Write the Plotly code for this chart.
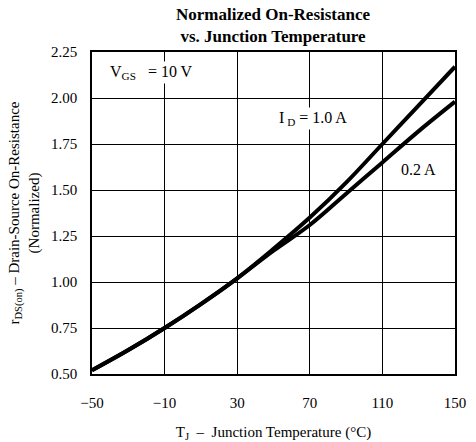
import plotly.graph_objects as go

temps = [-50, -30, -10, 10, 30, 50, 70, 90, 110, 130, 150]
r_1a = [0.52, 0.63, 0.75, 0.88, 1.02, 1.18, 1.35, 1.54, 1.75, 1.96, 2.17]
r_02a = [0.52, 0.63, 0.75, 0.88, 1.02, 1.17, 1.31, 1.48, 1.65, 1.82, 1.98]
x_ticks = [-50, -10, 30, 70, 110, 150]
y_ticks = [0.50, 0.75, 1.00, 1.25, 1.50, 1.75, 2.00, 2.25]

font = "Liberation Serif, Times New Roman, serif"

fig = go.Figure()
fig.add_trace(go.Scatter(x=temps, y=r_02a, mode="lines", line=dict(color="black", width=4, shape="spline"), name="0.2 A"))
fig.add_trace(go.Scatter(x=temps, y=r_1a, mode="lines", line=dict(color="black", width=4, shape="spline"), name="1.0 A"))

fig.add_annotation(x=-41, y=2.14, xanchor="left", yanchor="middle", text="V<sub>GS</sub>   = 10 V", showarrow=False,
                   font=dict(family=font, size=16, color="black"), bgcolor="white")
fig.add_annotation(x=52, y=1.89, xanchor="left", yanchor="middle", text="I<sub> D</sub> = 1.0 A", showarrow=False,
                   font=dict(family=font, size=16, color="black"), bgcolor="white")
fig.add_annotation(x=119, y=1.61, xanchor="left", yanchor="middle", text="0.2 A", showarrow=False,
                   font=dict(family=font, size=16, color="black"), bgcolor="white")
fig.add_annotation(x=0.5, xref="paper", y=1, yref="paper", yanchor="bottom", yshift=4, showarrow=False,
                   text="<b>Normalized On-Resistance<br>vs. Junction Temperature</b>",
                   font=dict(family=font, size=17, color="black"))

fig.update_layout(
    width=476, height=442,
    margin=dict(l=92, r=21, t=52, b=68),
    paper_bgcolor="white", plot_bgcolor="white",
    showlegend=False,
    font=dict(family=font, size=15, color="black"),
    xaxis=dict(range=[-50, 150], tickvals=x_ticks, ticktext=[str(v).replace("-", "\u2212") for v in x_ticks],
               showgrid=True, gridcolor="black", gridwidth=1, zeroline=False,
               showline=True, linecolor="black", linewidth=1.5, mirror=True, ticks="",
               ticklabelstandoff=14, automargin=False,
               title=dict(text="T<sub>J</sub>  \u2013  Junction Temperature (°C)", standoff=18,
                          font=dict(family=font, size=15))),
    yaxis=dict(range=[0.5, 2.25], tickvals=y_ticks, ticktext=[f"{v:.2f}" for v in y_ticks],
               showgrid=True, gridcolor="black", gridwidth=1, zeroline=False,
               showline=True, linecolor="black", linewidth=1.5, mirror=True, ticks="",
               ticklabelstandoff=10, automargin=False,
               title=dict(text="r<sub>DS(on)</sub> \u2013 Drain-Source On-Resistance<br>(Normalized)", standoff=8,
                          font=dict(family=font, size=15))),
)

fig.write_html("out.html", config={"displayModeBar": False},
               post_script="document.body.style.margin='0';")
